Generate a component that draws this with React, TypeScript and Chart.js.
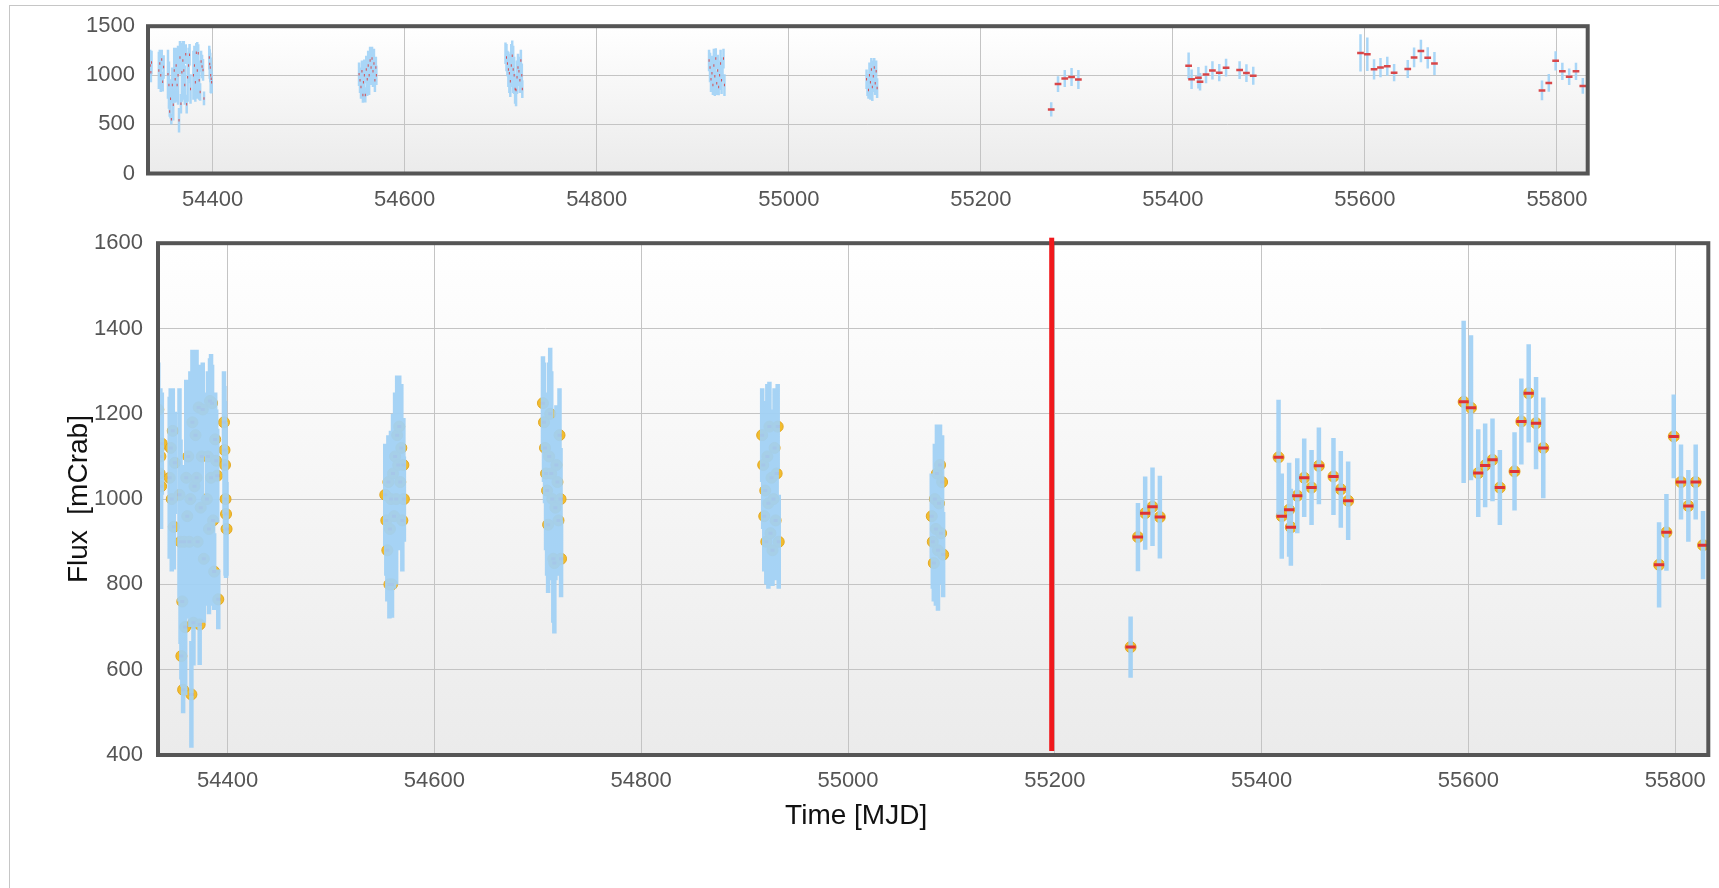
import React, { useEffect, useRef } from "react";
import { Chart, registerables } from "chart.js";

Chart.register(...registerables);

const FONT = '"Liberation Sans", Arial, Helvetica, sans-serif';
Chart.defaults.font.family = FONT;

// ---------------- data ----------------
// Pointed campaign A (2007)
const campaignAMjd = [54333.0, 54333.6, 54334.3, 54335.0, 54335.7, 54336.4, 54344.0, 54345.0, 54346.0, 54347.0, 54348.0, 54349.0, 54353.5, 54354.5, 54355.3, 54356.2, 54357.0, 54358.0, 54359.0, 54360.0, 54361.0, 54362.0, 54363.0, 54364.0, 54365.0, 54366.0, 54367.0, 54368.0, 54369.0, 54370.0, 54371.0, 54372.0, 54373.0, 54374.0, 54375.0, 54376.0, 54377.0, 54380.0, 54381.0, 54382.0, 54383.0, 54384.0, 54385.0, 54386.0, 54387.0, 54388.0, 54389.0, 54390.0, 54391.0, 54396.5, 54397.0, 54397.5, 54398.0, 54398.5, 54399.0];
const campaignAFlux = [1210, 1120, 1060, 1100, 1030, 1130, 1050, 1120, 1000, 1160, 935, 1085, 1010, 900, 632, 760, 553, 900, 700, 1050, 960, 1100, 900, 1000, 542, 1180, 710, 1030, 1150, 1050, 900, 1215, 706, 980, 1100, 1210, 860, 1000, 1100, 930, 1230, 1050, 1225, 950, 830, 1140, 1090, 1055, 765, 1180, 1115, 1080, 1000, 965, 930];
const campaignAErr = [110, 140, 120, 160, 100, 120, 190, 140, 170, 100, 100, 120, 250, 240, 55, 200, 55, 180, 160, 230, 240, 180, 170, 300, 125, 170, 100, 300, 200, 300, 200, 100, 95, 250, 180, 110, 150, 250, 200, 200, 100, 290, 90, 200, 90, 110, 120, 110, 70, 120, 150, 150, 180, 150, 110];

// Pointed campaign B (spring 2008)
const campaignBMjd = [54552.5, 54553.5, 54554.5, 54555.5, 54556.5, 54557.0, 54558.0, 54559.0, 54560.0, 54561.0, 54562.0, 54563.0, 54564.0, 54565.0, 54566.0, 54567.0, 54568.0, 54569.0, 54570.0, 54570.5];
const campaignBFlux = [1010, 950, 880, 1040, 800, 930, 1000, 800, 1060, 960, 1100, 1000, 1150, 1080, 1170, 1040, 1120, 950, 1080, 1000];
const campaignBErr = [120, 130, 120, 110, 80, 150, 160, 78, 140, 170, 150, 200, 140, 180, 120, 160, 150, 120, 110, 100];

// Pointed campaign C (autumn 2008)
const campaignCMjd = [54705, 54706, 54707, 54708, 54709, 54710, 54711, 54712, 54713, 54714, 54715, 54716, 54717, 54718, 54719, 54720, 54721, 54722, 54722.5];
const campaignCFlux = [1225, 1180, 1120, 1060, 1020, 940, 1100, 1200, 1060, 1000, 860, 850, 980, 1080, 1040, 950, 1150, 1000, 860];
const campaignCErr = [110, 140, 130, 180, 200, 160, 220, 155, 240, 190, 150, 165, 170, 140, 150, 130, 110, 120, 90];

// Pointed campaign D (spring 2009)
const campaignDMjd = [54917, 54918, 54919, 54920, 54921, 54922, 54923, 54924, 54925, 54926, 54927, 54928, 54929, 54930, 54931, 54932, 54933];
const campaignDFlux = [1150, 1080, 960, 1020, 900, 1100, 990, 1170, 920, 1050, 880, 1000, 1120, 950, 1060, 1170, 900];
const campaignDErr = [110, 150, 130, 180, 100, 170, 200, 105, 120, 160, 84, 150, 140, 140, 120, 100, 110];

// Pointed campaign E (autumn 2009)
const campaignEMjd = [55081, 55082, 55083, 55084, 55085, 55086, 55087, 55088, 55089, 55090, 55091, 55092];
const campaignEFlux = [960, 900, 850, 1000, 930, 1060, 880, 990, 1080, 920, 1040, 870];
const campaignEErr = [100, 110, 90, 130, 180, 115, 142, 160, 95, 120, 110, 100];

// Weekly bins (2010-2011)
const weeklyMjd = [55273.3, 55280.4, 55287.4, 55294.5, 55301.6, 55416.4, 55419.5, 55426.6, 55428.3, 55434.5, 55441.2, 55448.3, 55455.4, 55469.5, 55476.6, 55483.7, 55595.4, 55602.5, 55609.5, 55616.2, 55623.3, 55630.4, 55644.6, 55651.2, 55658.3, 55665.4, 55672.4, 55784.4, 55791.5, 55798.6, 55805.6, 55812.7, 55819.8, 55826.9];
const weeklyFlux = [653, 911, 967, 982, 958, 1098, 960, 975, 934, 1008, 1050, 1027, 1078, 1053, 1023, 996, 1228, 1214, 1061, 1079, 1092, 1027, 1065, 1182, 1248, 1178, 1120, 846, 922, 1147, 1040, 984, 1040, 892];
const weeklyErr = [72, 80, 86, 92, 97, 135, 100, 110, 90, 88, 92, 88, 90, 90, 90, 92, 190, 170, 103, 98, 97, 88, 92, 101, 115, 108, 118, 100, 90, 98, 88, 84, 88, 80];

const pointedHalfBinDays = 0.5;
const weeklyHalfBinDays = 3.5;

const xTickValues = [54400, 54600, 54800, 55000, 55200, 55400, 55600, 55800];
const mainYTickValues = [400, 600, 800, 1000, 1200, 1400, 1600];
const navYTickValues = [0, 500, 1000, 1500];
const mjdMin = 54332.7;
const mjdMax = 55832;
const markerMjd = 55197;

const xTitle = "Time [MJD]";
const yTitle = "Flux  [mCrab]";

// ---------------- helpers ----------------
type Pt = { x: number; y: number | null };
type Group = { mjd: number[]; flux: number[]; err: number[]; half: number };

const pointedGroups: Group[] = [
  { mjd: campaignAMjd, flux: campaignAFlux, err: campaignAErr, half: pointedHalfBinDays },
  { mjd: campaignBMjd, flux: campaignBFlux, err: campaignBErr, half: pointedHalfBinDays },
  { mjd: campaignCMjd, flux: campaignCFlux, err: campaignCErr, half: pointedHalfBinDays },
  { mjd: campaignDMjd, flux: campaignDFlux, err: campaignDErr, half: pointedHalfBinDays },
  { mjd: campaignEMjd, flux: campaignEFlux, err: campaignEErr, half: pointedHalfBinDays },
];
const weeklyGroups: Group[] = [{ mjd: weeklyMjd, flux: weeklyFlux, err: weeklyErr, half: weeklyHalfBinDays }];
const allGroups: Group[] = [...pointedGroups, ...weeklyGroups];

function fluxBars(groups: Group[]): Pt[] {
  const out: Pt[] = [];
  groups.forEach((g) =>
    g.mjd.forEach((m, i) => {
      out.push({ x: m, y: g.flux[i] - g.err[i] }, { x: m, y: g.flux[i] + g.err[i] }, { x: m, y: null });
    })
  );
  return out;
}
function timeBars(groups: Group[]): Pt[] {
  const out: Pt[] = [];
  groups.forEach((g) =>
    g.mjd.forEach((m, i) => {
      out.push({ x: m - g.half, y: g.flux[i] }, { x: m + g.half, y: g.flux[i] }, { x: m, y: null });
    })
  );
  return out;
}
function centres(groups: Group[]): Pt[] {
  const out: Pt[] = [];
  groups.forEach((g) => g.mjd.forEach((m, i) => out.push({ x: m, y: g.flux[i] })));
  return out;
}

const bgPlugin = {
  id: "bgGradient",
  beforeDraw(chart: any) {
    const { ctx, chartArea: a } = chart;
    const g = ctx.createLinearGradient(0, a.top, 0, a.bottom);
    g.addColorStop(0, "#ffffff");
    g.addColorStop(1, "#ebebeb");
    ctx.save();
    ctx.fillStyle = g;
    ctx.fillRect(a.left, a.top, a.right - a.left, a.bottom - a.top);
    ctx.restore();
  },
};

const frameLayer = (withMarker: boolean) => ({
  id: withMarker ? "frameMain" : "frameNav",
  afterDatasetsDraw(chart: any) {
    const { ctx, chartArea: a } = chart;
    ctx.save();
    ctx.strokeStyle = "#555555";
    ctx.lineWidth = 4;
    ctx.strokeRect(a.left, a.top, a.right - a.left, a.bottom - a.top);
    if (withMarker) {
      const x = chart.scales.x.getPixelForValue(markerMjd);
      ctx.fillStyle = "#f0181c";
      ctx.fillRect(x - 2.5, a.top - 5.5, 5, a.bottom - a.top + 1.5);
    }
    ctx.restore();
  },
  afterDraw(chart: any) {
    if (!withMarker) return;
    const { ctx, chartArea: a } = chart;
    ctx.save();
    ctx.font = `28px ${FONT}`;
    ctx.fillStyle = "#111111";
    ctx.textAlign = "center";
    ctx.textBaseline = "middle";
    ctx.fillText(xTitle, a.right / 2 + 2, a.bottom + 61);
    ctx.restore();
  },
});

function xScale(height: number) {
  return {
    type: "linear",
    min: mjdMin,
    max: mjdMax,
    afterBuildTicks: (s: any) => {
      s.ticks = xTickValues.map((v) => ({ value: v }));
    },
    afterFit: (s: any) => {
      s.height = height;
    },
    grid: { color: "#c4c4c4", lineWidth: 1, drawTicks: false },
    border: { display: false },
    ticks: {
      font: { size: 22, family: FONT },
      color: "#555555",
      padding: 13,
      maxRotation: 0,
      autoSkip: false,
      callback: (v: any) => String(v),
    },
  };
}

function yScale(min: number, max: number, values: number[], width: number, padding: number, title?: string) {
  return {
    type: "linear",
    min,
    max,
    afterBuildTicks: (s: any) => {
      s.ticks = values.map((v) => ({ value: v }));
    },
    afterFit: (s: any) => {
      s.width = width;
    },
    grid: { color: "#c4c4c4", lineWidth: 1, drawTicks: false },
    border: { display: false },
    ticks: {
      font: { size: 22, family: FONT },
      color: "#555555",
      padding,
      autoSkip: false,
      callback: (v: any) => String(v),
    },
    title: title
      ? { display: true, text: title, color: "#111111", font: { size: 28, family: FONT }, padding: { top: 62, bottom: 0 } }
      : { display: false },
  };
}

export default function App() {
  const navRef = useRef<HTMLCanvasElement>(null);
  const mainRef = useRef<HTMLCanvasElement>(null);

  useEffect(() => {
    const nav = new Chart(navRef.current as HTMLCanvasElement, {
      type: "line",
      data: {
        datasets: [
          {
            label: "bin",
            data: timeBars(allGroups),
            borderColor: "#d8474a",
            borderWidth: 2.5,
            borderCapStyle: "butt",
            pointRadius: 0,
            spanGaps: false,
            order: 0,
          } as any,
          {
            label: "flux error",
            data: fluxBars(allGroups),
            borderColor: "rgba(160,210,246,0.9)",
            borderWidth: 2.5,
            borderCapStyle: "butt",
            pointRadius: 0,
            spanGaps: false,
            order: 1,
          } as any,
        ],
      },
      options: {
        responsive: false,
        animation: false,
        events: [],
        layout: { padding: { left: 0, right: 131.3, top: 20.5, bottom: 0 } },
        plugins: { legend: { display: false }, tooltip: { enabled: false } },
        scales: {
          x: xScale(41.5) as any,
          y: yScale(0, 1500, navYTickValues, 148, 13) as any,
        },
      },
      plugins: [bgPlugin, frameLayer(false)],
    });

    const main = new Chart(mainRef.current as HTMLCanvasElement, {
      type: "line",
      data: {
        datasets: [
          {
            label: "weekly bin",
            data: timeBars(weeklyGroups),
            borderColor: "#dd3236",
            borderWidth: 3,
            borderCapStyle: "square",
            pointRadius: 0,
            spanGaps: false,
            order: -1,
          } as any,
          {
            label: "flux error",
            data: fluxBars(allGroups),
            borderColor: "rgba(160,208,244,0.94)",
            borderWidth: 4.5,
            borderCapStyle: "butt",
            pointRadius: 0,
            spanGaps: false,
            order: 0,
          } as any,
          {
            label: "pointed bin",
            data: timeBars(pointedGroups),
            borderColor: "#e0393b",
            borderWidth: 3,
            borderCapStyle: "square",
            pointRadius: 0,
            spanGaps: false,
            order: 1,
          } as any,
          {
            type: "scatter",
            label: "flux",
            data: centres(allGroups),
            pointRadius: 5.5,
            pointBackgroundColor: "#f2bd2e",
            pointBorderColor: "#e3a823",
            pointBorderWidth: 1,
            showLine: false,
            order: 2,
          } as any,
        ],
      },
      options: {
        responsive: false,
        animation: false,
        events: [],
        layout: { padding: { left: 0, right: 9, top: 13, bottom: 0 } },
        plugins: { legend: { display: false }, tooltip: { enabled: false } },
        scales: {
          x: xScale(133) as any,
          y: yScale(400, 1600, mainYTickValues, 158, 15, yTitle) as any,
        },
      },
      plugins: [bgPlugin, frameLayer(true)],
    });

    return () => {
      nav.destroy();
      main.destroy();
    };
  }, []);

  return (
    <div
      style={{
        position: "fixed",
        left: 0,
        top: 0,
        width: 1719,
        height: 888,
        background: "#ffffff",
        overflow: "hidden",
      }}
    >
      <div
        style={{
          position: "absolute",
          left: 9,
          top: 5,
          width: 1800,
          height: 1000,
          border: "1.5px solid #c6c6c6",
        }}
      />
      <canvas
        ref={navRef}
        width={1719}
        height={215}
        style={{ position: "absolute", left: 0, top: 0, width: 1719, height: 215 }}
      />
      <canvas
        ref={mainRef}
        width={1719}
        height={673}
        style={{ position: "absolute", left: 0, top: 215, width: 1719, height: 673 }}
      />
    </div>
  );
}
